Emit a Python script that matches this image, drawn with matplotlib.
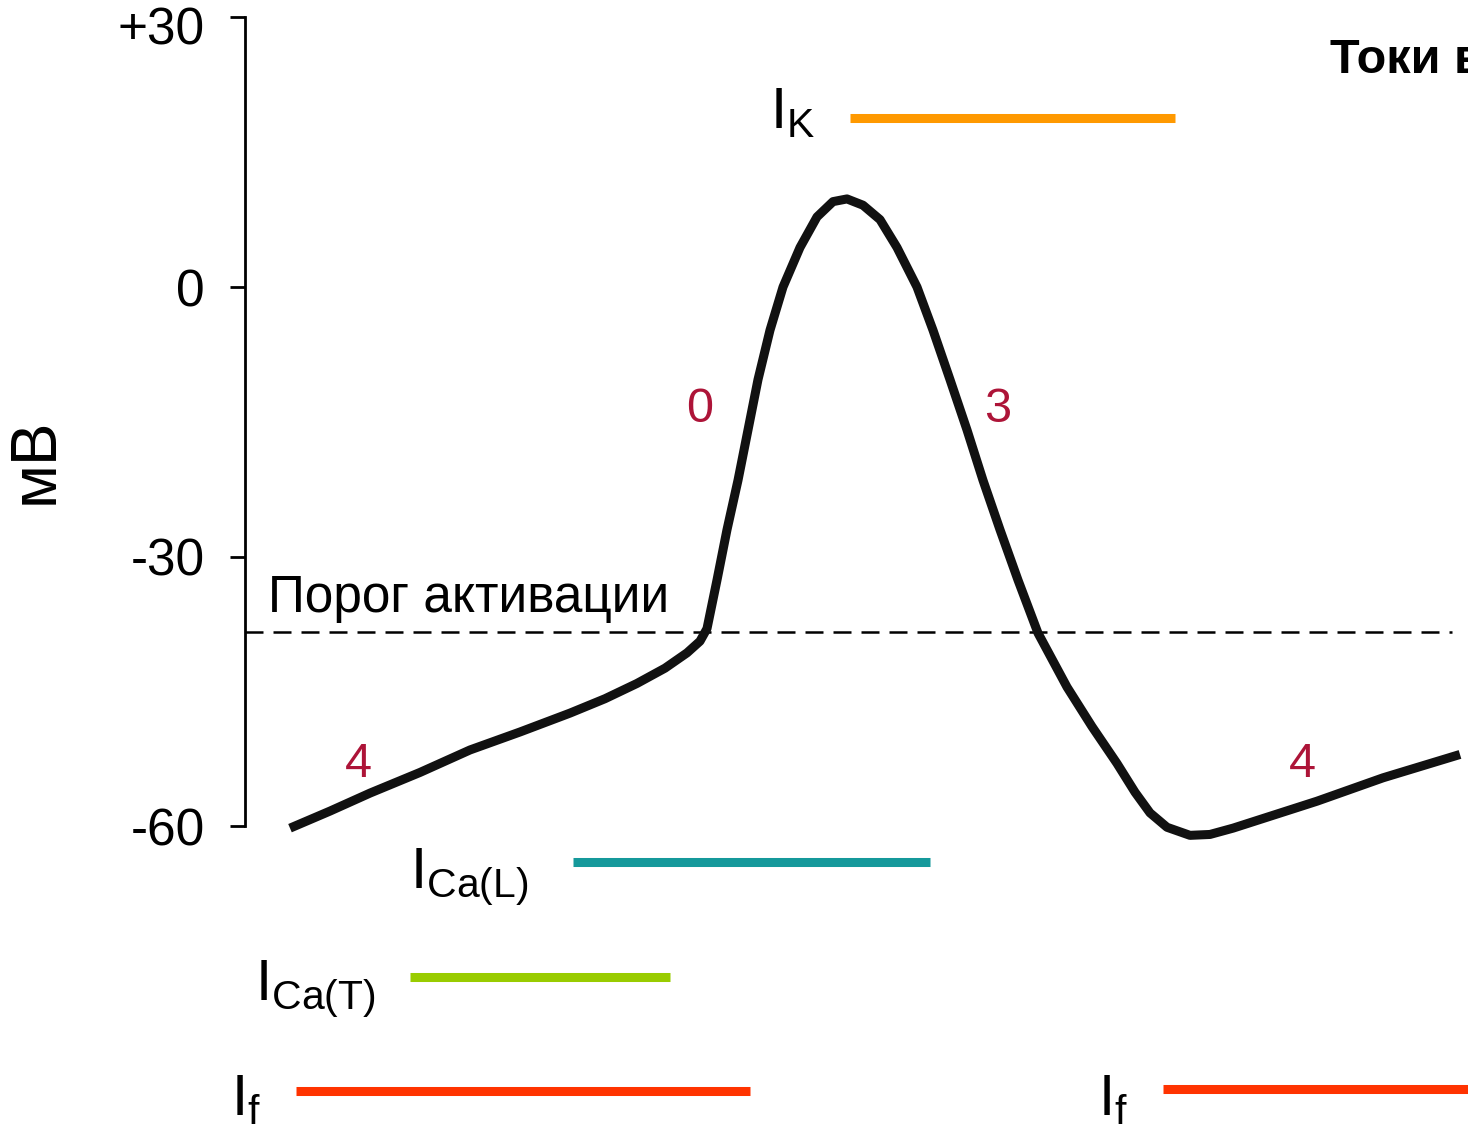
import matplotlib
matplotlib.use('Agg')
import matplotlib.pyplot as plt
import matplotlib.transforms as mtransforms

plt.rcParams['font.family'] = ['Liberation Sans', 'DejaVu Sans']

# потенциал действия пейсмекерной клетки: время (мс) и потенциал (мВ)
t_ms = [11.25, 21.25, 31.25, 43.75, 56.25, 68.75, 81.25, 90, 98, 105, 110.5,
        113.75, 115.5, 118, 120.5, 123.25, 125.75, 128.25, 131.25, 134.5,
        138.75, 143, 147, 150.5, 154.5, 158.75, 163, 168, 172, 176.25, 180.5,
        184.5, 188.75, 193.25, 198.25, 205.5, 211.75, 218, 222.5, 226.25,
        230.5, 236.25, 241.25, 247, 257.5, 268, 284.5, 303.75]
v_mv = [-60.2, -58.3, -56.3, -54.0, -51.5, -49.5, -47.4, -45.8, -44.1, -42.4,
        -40.7, -39.4, -38.0, -32.6, -27.0, -21.5, -15.9, -10.3, -4.8, 0.0,
        4.4, 7.8, 9.5, 9.8, 9.1, 7.5, 4.4, 0.0, -4.8, -10.3, -15.9,
        -21.5, -27.0, -32.6, -38.5, -44.5, -48.9, -53.0, -56.2, -58.5,
        -60.1, -61.0, -60.9, -60.2, -58.7, -57.2, -54.6, -52.0]
threshold_mv = -38.4

# периоды активности ионных токов
currents = ['K', 'Ca(L)', 'Ca(T)', 'f', 'f']
cur_start = [151.25, 82, 41.25, 12.75, 229.5]
cur_end = [232.5, 171.25, 106.25, 126.25, 306]
cur_level = [18.8, -64.0, -76.8, -89.4, -89.2]
cur_colors = ['#ff9900', '#15999b', '#99cc00', '#ff3300', '#ff3300']

# номера фаз
phases = ['4', '0', '3', '4']
phase_t = [28.25, 113.75, 188.25, 264.25]
phase_v = [-54.5, -15.0, -15.0, -54.5]

yticks = [-60, -30, 0, 30]
ytick_labels = ['-60', '-30', '0', '+30']

fig = plt.figure(figsize=(14.68, 11.31), dpi=100)
ax = fig.add_axes([245 / 1468, 0, 1 - 245 / 1468, 1])
ax.set_xlim(0, 305.75)
ax.set_ylim(-93.89, 31.93)

for side in ['top', 'right', 'bottom']:
    ax.spines[side].set_visible(False)
ax.spines['left'].set_bounds(-60, 30)
ax.spines['left'].set_linewidth(2)
ax.set_xticks([])
ax.set_yticks(yticks)
ax.set_yticklabels(ytick_labels)
ax.tick_params(axis='y', length=11, width=2, pad=18, labelsize=37)
# верхнюю подпись чуть ниже риски
top_lbl = ax.get_yticklabels()[-1]
top_lbl.set_transform(top_lbl.get_transform() +
                      mtransforms.ScaledTranslation(0, -6 / 72, fig.dpi_scale_trans))

# порог
ax.plot([0, 301.75], [threshold_mv, threshold_mv], color='black', lw=1.8,
        dashes=(7.2, 4), clip_on=False)
ax.text(5.75, -36.2, 'Порог активации', fontsize=37, ha='left', va='baseline')

ax.plot(t_ms, v_mv, color='#111111', lw=6.5, solid_capstyle='butt',
        solid_joinstyle='round', clip_on=False)

for name, t, v in zip(phases, phase_t, phase_v):
    ax.text(t, v, name, color='#ad1438', fontsize=35, ha='center', va='baseline')

# полосы токов с подписями
label_dx = [-25, -32, -25, -25, -25]
label_dy = [-10, -26, -23, -24, -26]
for name, t0, t1, lev, col, dx, dy in zip(currents, cur_start, cur_end,
                                          cur_level, cur_colors, label_dx,
                                          label_dy):
    ax.plot([t0, t1], [lev, lev], color=col, lw=6.5, solid_capstyle='butt',
            clip_on=False)
    ax.annotate(r'$\mathregular{I_{%s}}$' % name, (t0, lev),
                xytext=(dx, dy * 0.72), textcoords='offset points',
                fontsize=42, ha='right', va='baseline')

fig.text(36 / 1468, 1 - 461 / 1131, 'мВ', rotation=90, fontsize=46,
         ha='center', va='center')
fig.text(1330 / 1468, 1 - 73 / 1131, 'Токи в', fontsize=35, fontweight='bold',
         ha='left', va='baseline')

fig.savefig('out.png', dpi=100)
